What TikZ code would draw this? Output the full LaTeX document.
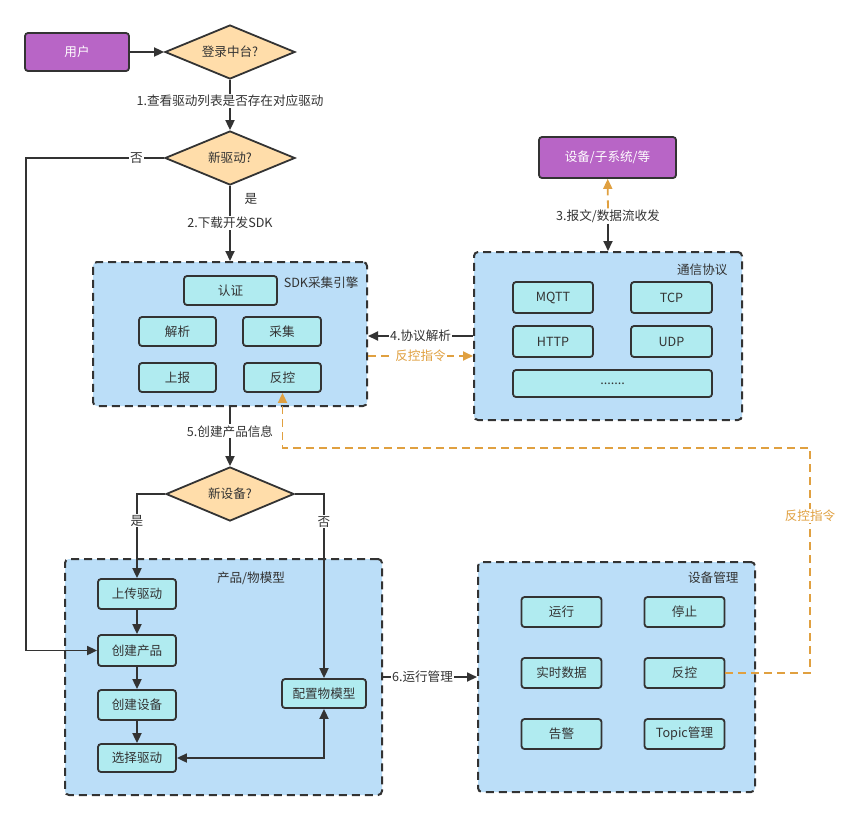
\documentclass[tikz,border=0pt]{standalone}
\usepackage{fontspec}
\setmainfont{Noto Sans CJK SC}
\usetikzlibrary{shapes.geometric,arrows.meta}
\definecolor{ink}{HTML}{333333}
\definecolor{termfill}{HTML}{B865C6}
\definecolor{askfill}{HTML}{FFDDAA}
\definecolor{groupfill}{HTML}{BBDEF8}
\definecolor{cellfill}{HTML}{B0EBF0}
\definecolor{ctrl}{HTML}{E0A040}
\tikzset{
term/.style = {draw = ink, fill = termfill, text = white, line width = 1.8pt, rounded corners = 3pt, inner sep = 0pt},
ask/.style = {diamond, aspect = 2.4, draw = ink, fill = askfill, line width = 1.8pt, inner sep = 0pt, minimum width = 130pt, minimum height = 54pt},
group/.style = {draw = ink, fill = groupfill, line width = 2pt, dash pattern = on 8pt off 5pt, rounded corners = 4pt, inner sep = 0pt},
cell/.style = {draw = ink, fill = cellfill, line width = 1.8pt, rounded corners = 3pt, inner sep = 0pt},
lbl/.style = {fill = white, inner sep = 1pt, text = ink},
flow/.style = {draw = ink, line width = 1.8pt, -{Triangle[length = 10pt, width = 9pt]}},
ctrlflow/.style = {draw = ctrl, line width = 1.8pt, dash pattern = on 8pt off 5pt, -{Triangle[length = 10pt, width = 9pt]}}
}
\begin{document}
\begin{tikzpicture}[x = 1pt, y = -1pt, font = \fontsize{12.6}{14}\selectfont, text = ink]
\useasboundingbox[fill = white] (0,0) rectangle (850,820);
\node[group, minimum width = 274pt, minimum height = 144pt] (sdk) at (230,334) {};
\node[group, minimum width = 268pt, minimum height = 168pt] (proto) at (608,336) {};
\node[group, minimum width = 317pt, minimum height = 236pt] (product) at (223.5,677) {};
\node[group, minimum width = 277pt, minimum height = 230pt] (devmgmt) at (616.5,677) {};
\node[anchor = east] (sdktitle) at (362,283) {SDK采集引擎};
\node[anchor = east] (prototitle) at (731,270) {通信协议};
\node (producttitle) at (251,578) {产品/物模型};
\node[anchor = east] (devtitle) at (742,578) {设备管理};
\node[term, minimum width = 104pt, minimum height = 38pt] (user) at (77,52) {用户};
\node[term, minimum width = 137pt, minimum height = 41pt] (dev) at (607.5,157.5) {设备/子系统/等};
\node[ask] (login) at (230,52) {登录中台?};
\node[ask] (newdrv) at (230,158) {新驱动?};
\node[ask, minimum width = 128pt] (newdev) at (230,494) {新设备?};
\foreach \nm/\px/\py/\w/\h/\txt in {auth/230.5/290.5/93/29/认证, parse/177.5/331.5/77/29/解析, collect/282/331.5/78/29/采集, report/177.5/377.5/77/29/上报, sfan/282.5/377.5/77/29/反控, mqtt/553/297.5/80/31/MQTT, tcp/671.5/297.5/81/31/TCP, http/553/341.5/80/31/HTTP, udp/671.5/341.5/81/31/UDP}
\node[cell, minimum width = \w pt, minimum height = \h pt] (\nm) at (\px,\py) {\txt};
\node[cell, minimum width = 199pt, minimum height = 27pt] (more) at (612.5,383.5) {.......};
\foreach \nm/\px/\py/\w/\h/\txt in {upload/137/594/78/30/上传驱动, mkprod/137/650.5/78/31/创建产品, mkdev/137/705/78/30/创建设备, seldrv/137/758/78/28/选择驱动, model/324/693.5/84/29/配置物模型}
\node[cell, minimum width = \w pt, minimum height = \h pt] (\nm) at (\px,\py) {\txt};
\foreach \nm/\px/\py/\txt in {run/561.5/612/运行, stop/684.5/612/停止, live/561.5/673/实时数据, dfan/684.5/673/反控, alarm/561.5/734/告警, topic/684.5/734/Topic管理}
\node[cell, minimum width = 80pt, minimum height = 30pt] (\nm) at (\px,\py) {\txt};
\draw[flow] (user) -- (login);
\draw[flow] (login) -- node[lbl, pos = 0.42] {1.查看驱动列表是否存在对应驱动} (newdrv);
\coordinate (nobend) at (26,158);
\draw[flow] (newdrv.west) -- node[lbl, pos = 0.2] {否} (nobend) |- (mkprod.west);
\draw[flow] (newdrv) -- node[pos = 0.18, xshift = 21pt] {是} node[lbl, pos = 0.49] {2.下载开发SDK} (sdk);
\node[lbl] (msg) at (608,216) {3.报文/数据流收发};
\draw[flow] (msg) -- (proto);
\draw[ctrlflow] (msg) -- (dev);
\draw[flow] (proto.west) -- node[lbl, pos = 0.5] {4.协议解析} (proto.west -| sdk.east);
\draw[ctrlflow] ([yshift = -22pt]sdk.east) -- node[lbl, text = ctrl, pos = 0.5] {反控指令} ([yshift = -22pt]sdk.east -| proto.west);
\draw[flow] (sdk) -- node[lbl, pos = 0.41] {5.创建产品信息} (newdev);
\coordinate (back) at (810,448);
\draw[ctrlflow] (dfan.east) -| (back) -| (sfan.south);
\node[lbl, text = ctrl] (backlbl) at (810,516) {反控指令};
\draw[flow] (newdev.west) -| node[lbl, pos = 0.66] {是} (upload);
\draw[flow] (newdev.east) -| node[lbl, pos = 0.575] {否} (model);
\draw[flow] (upload) -- (mkprod);
\draw[flow] (mkprod) -- (mkdev);
\draw[flow] (mkdev) -- (seldrv);
\draw[flow, {Triangle[length = 10pt, width = 9pt]}-{Triangle[length = 10pt, width = 9pt]}] (seldrv.east) -| (model.south);
\draw[flow] (product) -- node[lbl, pos = 0.42] {6.运行管理} (devmgmt);
\end{tikzpicture}
\end{document}
